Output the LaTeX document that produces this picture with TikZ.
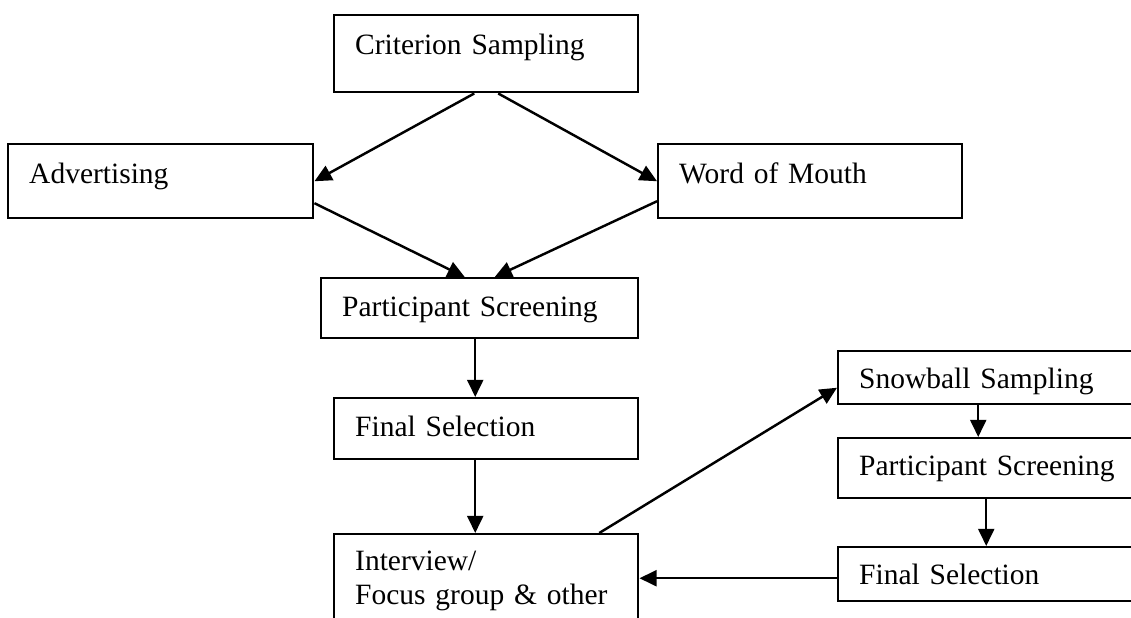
\documentclass[tikz,border=0pt]{standalone}
\usepackage{fontspec}
\setmainfont{Liberation Serif}
\usetikzlibrary{arrows.meta,calc}
\newdimen\pxu \pxu=0.407pt

\begin{document}
\begin{tikzpicture}
        [x=0.407pt, y=-0.407pt, line width=1pt, >={Triangle[length=7pt,width=6.5pt]},
         box/.style={draw, rectangle, anchor=north west, align=left, inner xsep=21\pxu, inner ysep=0pt, font=\fontsize{12pt}{13.8pt}\selectfont}]
        \clip (0,0) rectangle (1131,617);
        \node (crit) at (333,14) [box, text width=262\pxu, text height=39\pxu, text depth=38\pxu] {Criterion Sampling};
        \node (adv) at (7,143) [box, text width=263\pxu, text height=39\pxu, text depth=35\pxu] {Advertising};
        \node (wom) at (657,143) [box, text width=262\pxu, text height=39\pxu, text depth=35\pxu] {Word of Mouth};
        \node (screen) at (320,277) [box, text width=275\pxu, text height=38\pxu, text depth=22\pxu] {Participant Screening};
        \node (select) at (333,397) [box, text width=262\pxu, text height=38\pxu, text depth=23\pxu] {Final Selection};
        \node (interview) at (333,533) [box, text width=262\pxu, text height=36\pxu, text depth=74\pxu] {Interview/\\Focus group \& other};
        \node (snow) at (837,350) [box, text width=288\pxu, text height=37\pxu, text depth=16\pxu] {Snowball Sampling};
        \node (screentwo) at (837,437) [box, text width=288\pxu, text height=37\pxu, text depth=23\pxu] {Participant Screening};
        \node (selecttwo) at (837,546) [box, text width=288\pxu, text height=37\pxu, text depth=17\pxu] {Final Selection};
        \draw[->] ($(crit.south)+(-12,0)$) -- (adv.east);
        \draw[->] ($(crit.south)+(12,0)$) -- (wom.west);
        \draw[->] ($(adv.east)+(0,22)$) -- ($(screen.north)+(-15,0)$);
        \draw[->] ($(wom.west)+(0,20)$) -- ($(screen.north)+(15,0)$);
        \draw[->] ($(screen.south)+(-4.5,0)$) -- ($(select.north)+(-11,0)$);
        \draw[->] ($(select.south)+(-11,0)$) -- ($(interview.north)+(-11,0)$);
        \draw[->] ($(interview.north)+(113,0)$) -- ($(snow.west)+(0,10)$);
        \draw[->] ($(snow.south)+(-25,0)$) -- ($(screentwo.north)+(-25,0)$);
        \draw[->] ($(screentwo.south)+(-17,0)$) -- ($(selecttwo.north)+(-17,0)$);
        \draw[->] ($(selecttwo.west)+(0,4)$) -- ($(selecttwo.west -| interview.east)+(0,4)$);
\end{tikzpicture}
\end{document}
